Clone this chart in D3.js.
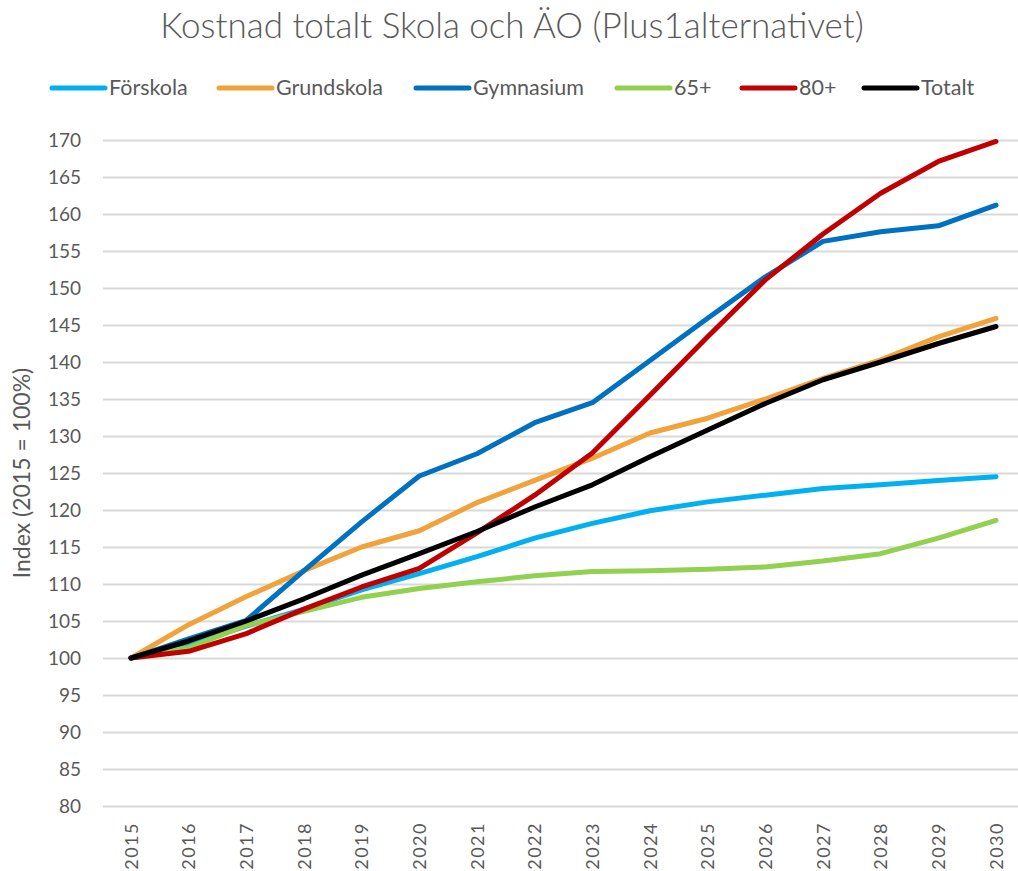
<!DOCTYPE html>
<html>
<head>
<meta charset="utf-8">
<script src="https://cdn.jsdelivr.net/npm/d3@7"></script>
<style>
  body { margin: 0; background: #fff; }
  svg text { font-family: Lato, "Open Sans", sans-serif; fill: #595959; }
</style>
</head>
<body>
<div id="canvas"></div>
<script>
// data
const years = ["2015","2016","2017","2018","2019","2020","2021","2022","2023","2024","2025","2026","2027","2028","2029","2030"];
const yTicks = [80,85,90,95,100,105,110,115,120,125,130,135,140,145,150,155,160,165,170];

const forskola    = [100, 101.8, 104.3, 106.6, 109.2, 111.4, 113.7, 116.2, 118.2, 119.9, 121.1, 122.0, 122.9, 123.4, 124.0, 124.5];
const grundskola  = [100, 104.5, 108.3, 111.8, 115.0, 117.2, 121.0, 124.0, 127.0, 130.4, 132.4, 135.0, 137.8, 140.3, 143.4, 145.9];
const gymnasium   = [100, 102.6, 105.1, 111.8, 118.4, 124.6, 127.6, 131.8, 134.5, 140.2, 145.9, 151.5, 156.3, 157.6, 158.4, 161.2];
const plus65      = [100, 101.4, 104.4, 106.3, 108.2, 109.4, 110.3, 111.1, 111.7, 111.8, 112.0, 112.3, 113.1, 114.1, 116.2, 118.6];
const plus80      = [100, 100.9, 103.3, 106.6, 109.6, 112.1, 116.9, 122.0, 127.7, 135.5, 143.4, 151.1, 157.3, 162.8, 167.1, 169.8];
const totalt      = [100, 102.3, 105.0, 108.0, 111.2, 114.1, 117.1, 120.4, 123.4, 127.2, 130.8, 134.4, 137.6, 140.0, 142.5, 144.8];

const series = [
  { name: "Förskola", values: forskola, color: "#00B0F0" },
  { name: "Grundskola", values: grundskola, color: "#F2A23A" },
  { name: "Gymnasium", values: gymnasium, color: "#0070C0" },
  { name: "65+", values: plus65, color: "#92D050" },
  { name: "80+", values: plus80, color: "#C00000" },
  { name: "Totalt", values: totalt, color: "#000000" }
];

const width = 1018, height = 871;
const svg = d3.select("#canvas").append("svg")
  .attr("width", width).attr("height", height);

const x = d3.scalePoint().domain(years).range([131, 996]);
const y = d3.scaleLinear().domain([80, 170]).range([806, 140]);

// title
svg.append("text")
  .attr("x", 512).attr("y", 38)
  .attr("text-anchor", "middle")
  .style("font-size", "35px")
  .style("font-weight", "300")
  .text("Kostnad totalt Skola och ÄO (Plus1alternativet)");

// legend
const legendX = [52, 219, 416, 617, 742, 864];
const leg = svg.append("g");
series.forEach((s, i) => {
  leg.append("line")
    .attr("x1", legendX[i]).attr("x2", legendX[i] + 53)
    .attr("y1", 88).attr("y2", 88)
    .attr("stroke", s.color).attr("stroke-width", 5)
    .attr("stroke-linecap", "round");
  leg.append("text")
    .attr("x", legendX[i] + 57).attr("y", 95)
    .style("font-size", "21.5px")
    .text(s.name);
});

// y grid + labels
const yAxis = svg.append("g")
  .attr("transform", "translate(103,0)")
  .call(d3.axisLeft(y).tickValues(yTicks).tickSize(-(width - 103)).tickPadding(22));
yAxis.select(".domain").remove();
yAxis.selectAll(".tick line").attr("stroke", "#d9d9d9").attr("stroke-width", 2);
yAxis.selectAll(".tick text").style("font-size", "19px").attr("fill", "#595959");

// x labels
const xAxis = svg.append("g")
  .attr("transform", "translate(0,806)")
  .call(d3.axisBottom(x).tickSize(0));
xAxis.select(".domain").remove();
xAxis.selectAll(".tick text")
  .style("font-size", "18px")
  .style("letter-spacing", "1.5px")
  .attr("fill", "#595959")
  .attr("transform", "rotate(-90)")
  .attr("text-anchor", "end")
  .attr("dy", "0.35em")
  .attr("x", -16).attr("y", 0);

// y axis title
svg.append("text")
  .attr("transform", "translate(30,473) rotate(-90)")
  .attr("text-anchor", "middle")
  .style("font-size", "23px")
  .text("Index (2015 = 100%)");

// lines
const line = d3.line()
  .x((d, i) => x(years[i]))
  .y(d => y(d));

svg.append("g").selectAll("path")
  .data(series)
  .enter().append("path")
  .attr("d", d => line(d.values))
  .attr("fill", "none")
  .attr("stroke", d => d.color)
  .attr("stroke-width", 5)
  .attr("stroke-linecap", "round")
  .attr("stroke-linejoin", "round");
</script>
</body>
</html>
